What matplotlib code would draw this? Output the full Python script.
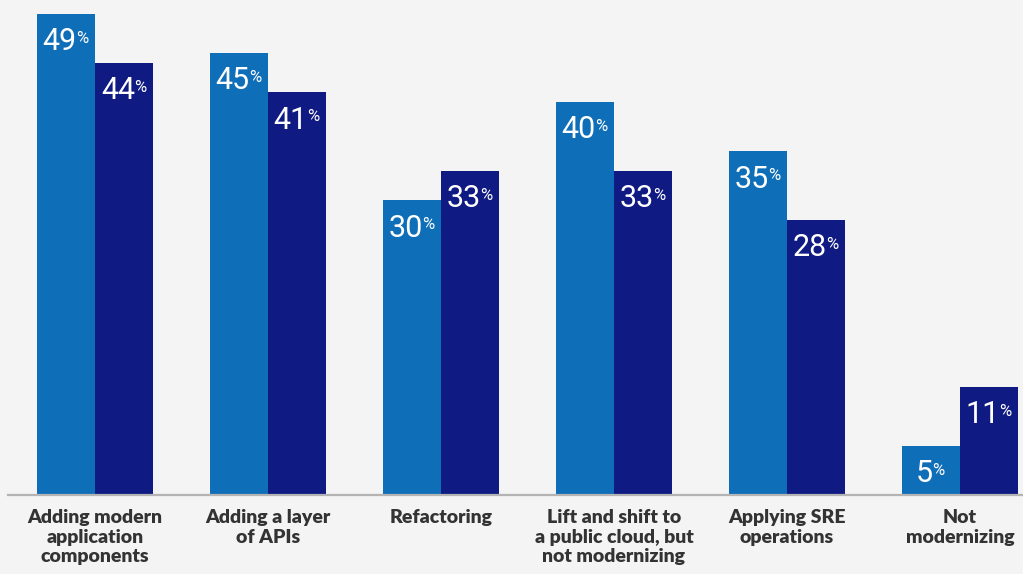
import numpy as np
import matplotlib.pyplot as plt

categories = ['Adding modern\napplication\ncomponents', 'Adding a layer\nof APIs', 'Refactoring',
              'Lift and shift to\na public cloud, but\nnot modernizing', 'Applying SRE\noperations',
              'Not\nmodernizing']
series_a = [49, 45, 30, 40, 35, 5]
series_b = [44, 41, 33, 33, 28, 11]

light = '#0e6eb8'
dark = '#0f1a82'
bg = '#f4f4f4'

step = 173.0  # px between group centers
fig = plt.figure(figsize=(10.23, 5.74), dpi=100, facecolor=bg)
# axes placed in pixel terms: left at 8px, bottom line at y=495px
ax = fig.add_axes([8 / 1023, (574 - 495) / 574, 1 - 8 / 1023, 495 / 574])
ax.set_facecolor(bg)

x = np.arange(len(categories))
w = 58 / step
bars_a = ax.bar(x - w / 2, series_a, w, color=light)
bars_b = ax.bar(x + w / 2, series_b, w, color=dark)

ax.set_xlim(-(95 - 8) / step, (1023 - 95) / step)
ax.set_ylim(0, 495 / 9.82)

for bars, vals in [(bars_a, series_a), (bars_b, series_b)]:
    for b, v in zip(bars, vals):
        cx = b.get_x() + b.get_width() / 2
        t = ax.annotate(str(v), (cx, v), xytext=(-4.5, -20), textcoords='offset points',
                        ha='center', va='center', color='white', fontsize=22,
                        family='Roboto')
        ax.annotate('%', xy=(1, 1), xycoords=t, xytext=(-0.8, -2.5), textcoords='offset points',
                    ha='left', va='top', color='white', fontsize=12, family='Roboto')

for s in ['top', 'right', 'left']:
    ax.spines[s].set_visible(False)
ax.spines['bottom'].set_color('#b4b4b4')
ax.spines['bottom'].set_linewidth(1.6)
ax.set_yticks([])
ax.set_xticks(x)
ax.set_xticklabels(categories, fontsize=14, fontweight='heavy', color='#333333',
                   family='Lato', linespacing=1.2)
ax.tick_params(axis='x', length=0, pad=10)

fig.savefig('out.png', dpi=100, facecolor=bg)
